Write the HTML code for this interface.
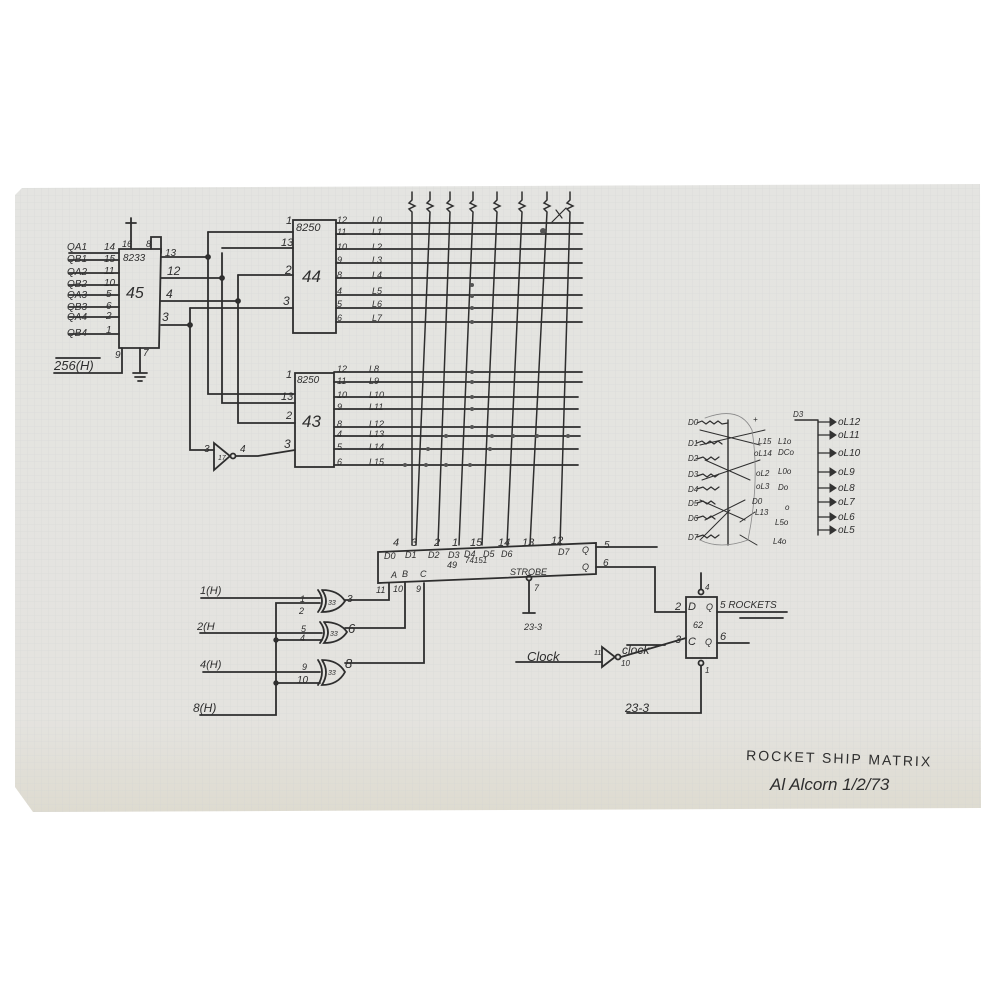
<!DOCTYPE html>
<html><head><meta charset="utf-8"><style>
html,body{margin:0;padding:0;background:#fff;}
svg{display:block}
text{font-family:"Liberation Sans",sans-serif;font-style:italic;fill:#2e2e2e;}
</style></head><body>
<svg width="1000" height="1000" viewBox="0 0 1000 1000" xmlns="http://www.w3.org/2000/svg">
<defs>
<pattern id="g" width="7" height="7" patternUnits="userSpaceOnUse">
<path d="M7 0V7M0 7H7" stroke="#d0d3d3" stroke-width="0.6" fill="none"/>
</pattern>
<linearGradient id="pg" x1="0" y1="0" x2="0" y2="1">
<stop offset="0" stop-color="#e4e4e1"/><stop offset="0.85" stop-color="#e4e3df"/><stop offset="1" stop-color="#dedbd0"/>
</linearGradient>
</defs>
<polygon points="22,188 980,184 981,808 33,812 15,787 15,195" fill="url(#pg)"/>
<polygon points="22,188 980,184 981,808 33,812 15,787 15,195" fill="url(#g)" opacity="0.7"/>

<g stroke="#2e2e2e" stroke-width="1.8" fill="none" stroke-linecap="round">
<!-- chip 45 -->
<polygon points="119,249 161,249 159,348 119,348"/>
<path d="M69,253H119M69,260H119M69,273H119M69,285H119M69,295H119M69,307H119M69,317H119M69,334H119"/>
<path d="M54,373H122V348M56,358H100"/>
<path d="M140,348V372M133,373H147M135,377H145M138,381H142"/>
<path d="M131,249V228M126,223H136M131,218V228"/>
<path d="M151,249V237H161V253"/>
<path d="M161,257H208M161,278H222M161,301H238M161,325H190"/>
<path d="M208,232V394H295M222,253V403H295M238,275V423H295M190,308V450H214"/>
<path d="M208,232H293M222,248H293M238,275H293M190,308H293"/>
<circle cx="208" cy="257" r="2" fill="#333"/><circle cx="222" cy="278" r="2" fill="#333"/>
<circle cx="238" cy="301" r="2" fill="#333"/><circle cx="190" cy="325" r="2" fill="#333"/>
<polygon points="214,443 214,470 230,456"/><circle cx="233" cy="456" r="2.5"/>
<path d="M236,456H258L295,450"/>
<rect x="293" y="220" width="43" height="113"/>
<rect x="295" y="373" width="39" height="94"/>
<path d="M336,223H583M336,234H582M336,249H582M336,263H582M336,278H582M336,295H582M336,308H582M336,322H582"/>
<path d="M334,372H582M334,382H582M334,397H578M334,409H578M334,427H580M334,436H580M334,449H578M334,465H578"/>
<path stroke-width="1.5" d="M412,192V200l-3,3 6,3-6,3 3,3V545M430,192V200l-3,3 6,3-6,3 3,3L416,545M450,192V200l-3,3 6,3-6,3 3,3L438,545M473,192V200l-3,3 6,3-6,3 3,3L459,545M497,192V200l-3,3 6,3-6,3 3,3L482,545M522,192V200l-3,3 6,3-6,3 3,3L507,545M547,192V200l-3,3 6,3-6,3 3,3L530,545M570,192V200l-3,3 6,3-6,3 3,3L560,545"/>
<path d="M552,222L566,208M556,210L562,218" stroke-width="1.2"/>
<polygon points="378,552 596,543 596,574 378,583"/>
<path d="M596,547H657M596,567H655V612H686"/>
<path d="M389,583V600H345M405,583V628H345M424,583V663H345"/>
<circle cx="529" cy="578" r="2.5"/><path d="M529,581V612M523,613H535"/>
<path d="M318,590Q326,601 318,612M322,590Q338,590 345,601Q338,612 322,612Q330,601 322,590"/>
<path d="M320,622Q328,632 320,643M324,622Q340,622 347,632Q340,643 324,643Q332,632 324,622"/>
<path d="M318,660Q326,672 318,685M322,660Q338,660 345,672Q338,685 322,685Q330,672 322,660"/>
<path d="M201,598H320M200,633H322M203,672H320M200,715H276V603H320M276,640H322M276,683H320"/>
<circle cx="276" cy="640" r="1.8" fill="#333"/><circle cx="276" cy="683" r="1.8" fill="#333"/>
<rect x="686" y="597" width="31" height="61"/>
<circle cx="701" cy="592" r="2.5"/><path d="M701,589V573"/>
<circle cx="701" cy="663" r="2.5"/><path d="M701,666V713H627"/>
<path d="M717,612H787M740,618H783M717,643H749"/>
<path d="M516,662H602"/>
<polygon points="602,647 602,667 615,657"/><circle cx="618" cy="657" r="2.5"/>
<path d="M621,657L686,638M627,645H665"/>
<path d="M728,420V545M795,420H818M818,420V535" stroke-width="1.4"/>
<path d="M818,422H830M818,435H830M818,453H830M818,472H830M818,488H830M818,502H830M818,517H830M818,530H830" stroke-width="1.3"/>
<path d="M697,423l5,-2 4,3 4,-3 4,3 4,-3 4,3 6,-1M697,443l5,-2 4,3 4,-3 4,3 4,-3 4,3M697,459l6,-2 4,3 4,-3 4,3 4,-3M697,476l6,-2 4,3 4,-3 4,3 4,-3M697,489l6,-2 4,3 4,-3 4,3 4,-3M697,503l6,-2 4,3 4,-3 4,3M697,518l6,-2 4,3 4,-3 4,3M697,537l6,-2 4,3 4,-3 4,3 4,-3" stroke-width="1.2"/>
<path d="M700,430L760,445M700,445L765,430M705,460L750,480M702,480L760,460M700,500L745,520M705,520L745,500M700,540L730,510" stroke-width="1"/>
<path d="M740,522L755,512M740,535L757,545" stroke-width="1"/>
<path d="M705,418Q740,405 752,430Q760,480 748,540Q720,550 700,540" stroke="#888" stroke-width="0.8"/>
</g>
<g fill="#333" stroke="#333" stroke-width="1">
<path d="M830,418l6,4-6,4zM830,431l6,4-6,4zM830,449l6,4-6,4zM830,468l6,4-6,4zM830,484l6,4-6,4zM830,498l6,4-6,4zM830,513l6,4-6,4zM830,526l6,4-6,4z"/>
</g>
<g fill="#555">
<circle cx="543" cy="231" r="3"/>
<circle cx="472" cy="285" r="2"/><circle cx="472" cy="296" r="2"/><circle cx="472" cy="308" r="2"/><circle cx="472" cy="322" r="2"/>
<circle cx="472" cy="372" r="2"/><circle cx="472" cy="382" r="2"/><circle cx="472" cy="397" r="2"/><circle cx="472" cy="409" r="2"/><circle cx="472" cy="427" r="2"/>
<circle cx="446" cy="436" r="2"/><circle cx="492" cy="436" r="2"/><circle cx="513" cy="436" r="2"/><circle cx="537" cy="436" r="2"/><circle cx="568" cy="436" r="2"/>
<circle cx="428" cy="449" r="2"/><circle cx="490" cy="449" r="2"/>
<circle cx="405" cy="465" r="2"/><circle cx="426" cy="465" r="2"/><circle cx="446" cy="465" r="2"/><circle cx="470" cy="465" r="2"/>
</g>
<g font-size="10">
<text x="67" y="250">QA1</text><text x="67" y="262">QB1</text><text x="67" y="275">QA2</text><text x="67" y="287">QB2</text><text x="67" y="298">QA3</text><text x="67" y="310">QB3</text><text x="67" y="320">QA4</text><text x="67" y="336">QB4</text>
<text x="104" y="250">14</text><text x="104" y="262">15</text><text x="104" y="274">11</text><text x="104" y="286">10</text><text x="106" y="297">5</text><text x="106" y="309">6</text><text x="106" y="319">2</text><text x="106" y="333">1</text>
<text x="122" y="247" font-size="9">16</text><text x="146" y="247" font-size="9">8</text>
<text x="123" y="261" font-size="10">8233</text>
<text x="126" y="298" font-size="16">45</text>
<text x="54" y="370" font-size="13">256(H)</text><text x="115" y="358">9</text><text x="143" y="356">7</text>
<text x="165" y="256">13</text><text x="167" y="275" font-size="12">12</text><text x="166" y="298" font-size="12">4</text><text x="162" y="321" font-size="12">3</text>
<text x="286" y="224" font-size="11">1</text><text x="281" y="246" font-size="11">13</text><text x="285" y="274" font-size="12">2</text><text x="283" y="305" font-size="12">3</text>
<text x="296" y="231" font-size="11">8250</text><text x="302" y="282" font-size="17">44</text>
<text x="337" y="223" font-size="9">12</text><text x="337" y="235" font-size="9">11</text><text x="337" y="250" font-size="9">10</text><text x="337" y="263" font-size="9">9</text><text x="337" y="278" font-size="9">8</text><text x="337" y="294" font-size="9">4</text><text x="337" y="307" font-size="9">5</text><text x="337" y="321" font-size="9">6</text>
<text x="372" y="223" font-size="9">L0</text><text x="372" y="235" font-size="9">L1</text><text x="372" y="250" font-size="9">L2</text><text x="372" y="263" font-size="9">L3</text><text x="372" y="278" font-size="9">L4</text><text x="372" y="294" font-size="9">L5</text><text x="372" y="307" font-size="9">L6</text><text x="372" y="321" font-size="9">L7</text>
<text x="286" y="378" font-size="11">1</text><text x="281" y="400" font-size="11">13</text><text x="286" y="419" font-size="11">2</text><text x="284" y="448" font-size="12">3</text>
<text x="297" y="383" font-size="10">8250</text><text x="302" y="427" font-size="17">43</text>
<text x="337" y="372" font-size="9">12</text><text x="337" y="384" font-size="9">11</text><text x="337" y="398" font-size="9">10</text><text x="337" y="410" font-size="9">9</text><text x="337" y="427" font-size="9">8</text><text x="337" y="437" font-size="9">4</text><text x="337" y="450" font-size="9">5</text><text x="337" y="465" font-size="9">6</text>
<text x="369" y="372" font-size="9">L8</text><text x="369" y="384" font-size="9">L9</text><text x="369" y="398" font-size="9">L10</text><text x="369" y="410" font-size="9">L11</text><text x="369" y="427" font-size="9">L12</text><text x="369" y="437" font-size="9">L13</text><text x="369" y="450" font-size="9">L14</text><text x="369" y="465" font-size="9">L15</text>
<text x="204" y="452" font-size="10">3</text><text x="218" y="460" font-size="7">17</text><text x="240" y="452" font-size="10">4</text>
<text x="393" y="546" font-size="11">4</text><text x="411" y="546" font-size="11">3</text><text x="434" y="546" font-size="11">2</text><text x="452" y="546" font-size="11">1</text><text x="470" y="546" font-size="11">15</text><text x="498" y="546" font-size="11">14</text><text x="522" y="546" font-size="11">13</text><text x="551" y="544" font-size="11">12</text>
<text x="384" y="559" font-size="9">D0</text><text x="405" y="558" font-size="9">D1</text><text x="428" y="558" font-size="9">D2</text><text x="448" y="558" font-size="9">D3</text><text x="464" y="557" font-size="9">D4</text><text x="483" y="557" font-size="9">D5</text><text x="501" y="557" font-size="9">D6</text><text x="558" y="555" font-size="9">D7</text>
<text x="582" y="553" font-size="9">Q</text><text x="582" y="570" font-size="9">Q</text><text x="604" y="548" font-size="10">5</text><text x="603" y="566" font-size="10">6</text>
<text x="447" y="568" font-size="9">49</text><text x="465" y="563" font-size="8">74151</text><text x="391" y="578" font-size="9">A</text><text x="402" y="577" font-size="9">B</text><text x="420" y="577" font-size="9">C</text><text x="510" y="575" font-size="9">STROBE</text><text x="534" y="591" font-size="9">7</text>
<text x="376" y="593" font-size="9">11</text><text x="393" y="592" font-size="9">10</text><text x="416" y="592" font-size="9">9</text>
<text x="200" y="594" font-size="11">1(H)</text><text x="197" y="630" font-size="11">2(H</text><text x="200" y="668" font-size="11">4(H)</text><text x="193" y="712" font-size="12">8(H)</text>
<text x="300" y="602" font-size="9">1</text><text x="299" y="614" font-size="9">2</text><text x="301" y="632" font-size="9">5</text><text x="300" y="641" font-size="9">4</text><text x="302" y="670" font-size="9">9</text><text x="297" y="683" font-size="10">10</text>
<text x="328" y="605" font-size="7">33</text><text x="330" y="636" font-size="7">33</text><text x="328" y="675" font-size="7">33</text>
<text x="347" y="602" font-size="10">3</text><text x="348" y="633" font-size="13">6</text><text x="345" y="668" font-size="13">8</text>
<text x="675" y="610" font-size="11">2</text><text x="688" y="610" font-size="11">D</text><text x="706" y="610" font-size="9">Q</text><text x="693" y="628" font-size="9">62</text><text x="688" y="645" font-size="11">C</text><text x="705" y="645" font-size="9">Q</text><text x="675" y="643" font-size="11">3</text>
<text x="705" y="590" font-size="8">4</text><text x="705" y="673" font-size="8">1</text>
<text x="720" y="608" font-size="10">5 ROCKETS</text><text x="720" y="640" font-size="11">6</text>
<text x="524" y="630" font-size="9">23-3</text><text x="625" y="712" font-size="12">23-3</text>
<text x="527" y="661" font-size="13" font-family="Liberation Serif">Clock</text><text x="622" y="654" font-size="12" font-family="Liberation Serif">clock</text>
<text x="594" y="655" font-size="7">11</text><text x="621" y="666" font-size="8">10</text>
<text x="688" y="425" font-size="8">D0</text><text x="688" y="446" font-size="8">D1</text><text x="688" y="461" font-size="8">D2</text><text x="688" y="477" font-size="8">D3</text><text x="688" y="492" font-size="8">D4</text><text x="688" y="506" font-size="8">D5</text><text x="688" y="521" font-size="8">D6</text><text x="688" y="540" font-size="8">D7</text>
<text x="753" y="422" font-size="8">+</text><text x="758" y="444" font-size="8">L15</text><text x="754" y="456" font-size="8">oL14</text><text x="756" y="476" font-size="8">oL2</text><text x="756" y="489" font-size="8">oL3</text><text x="752" y="504" font-size="8">D0</text><text x="755" y="515" font-size="8">L13</text>
<text x="778" y="444" font-size="8">L1o</text><text x="778" y="455" font-size="8">DCo</text><text x="778" y="474" font-size="8">L0o</text><text x="778" y="490" font-size="8">Do</text><text x="785" y="510" font-size="8">o</text><text x="775" y="525" font-size="8">L5o</text><text x="773" y="544" font-size="8">L4o</text>
<text x="793" y="417" font-size="8">D3</text>
<text x="838" y="425" font-size="10">oL12</text><text x="838" y="438" font-size="10">oL11</text><text x="838" y="456" font-size="10">oL10</text><text x="838" y="475" font-size="10">oL9</text><text x="838" y="491" font-size="10">oL8</text><text x="838" y="505" font-size="10">oL7</text><text x="838" y="520" font-size="10">oL6</text><text x="838" y="533" font-size="10">oL5</text>
<text x="746" y="760" font-size="14" transform="rotate(2 746 760)" letter-spacing="2" style="font-style:normal">ROCKET SHIP MATRIX</text>
<text x="770" y="790" font-size="17" font-family="Liberation Serif">Al Alcorn 1/2/73</text>
</g>
</svg>
</body></html>
